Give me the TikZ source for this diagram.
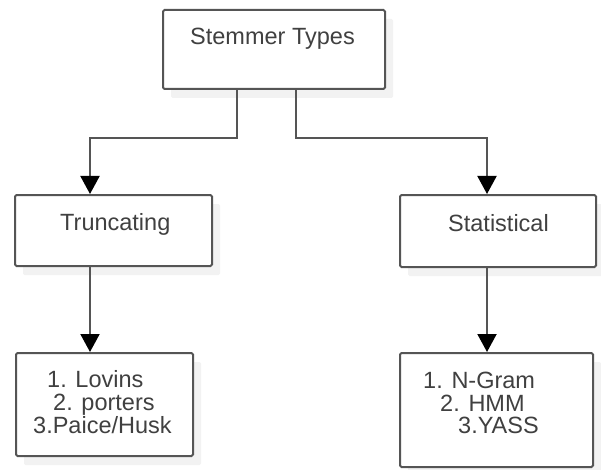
\documentclass[tikz,border=0pt]{standalone}
\usepackage{fontspec}
\setmainfont{Liberation Sans}
\usetikzlibrary{arrows.meta,shadows}
\definecolor{edge}{HTML}{555555}
\definecolor{ink}{HTML}{404040}
\tikzset{
  box/.style={draw=edge, line width=2pt, rounded corners=1.5pt, fill=white,
    inner sep=0pt, drop shadow={shadow xshift=8pt, shadow yshift=-9pt, fill=black!5, opacity=1}},
  txt/.style={anchor=base west, inner sep=0pt, text=ink,
    font=\fontsize{23.5}{24}\selectfont},
  arr/.style={draw=edge, line width=2pt, -{Triangle[width=19pt,length=18pt,color=black]}},
  link/.style={draw=edge, line width=2pt}
}
\begin{document}
\begin{tikzpicture}[x=1pt,y=-1pt]
  \useasboundingbox (0,0) rectangle (601,470);
  % boxes
  \node[box, minimum width=222pt, minimum height=79pt]  (top)   at (274,49.5) {};
  \node[box, minimum width=197pt, minimum height=71pt]  (trunc) at (113.5,230.5) {};
  \node[box, minimum width=196pt, minimum height=72pt]  (stat)  at (498,231) {};
  \node[box, minimum width=177pt, minimum height=103pt] (tlist) at (104.5,404.5) {};
  \node[box, minimum width=193pt, minimum height=114pt] (slist) at (496.5,410) {};
  % texts
  \node[txt] (ttop) at (190,45) {Stemmer Types};
  \node[txt] (ttrunc) at (60,230) {Truncating};
  \node[txt] (tstat) at (448,231) {Statistical};
  \node[txt] (tl1) at (47,387) {1. Lovins};
  \node[txt] (tl2) at (53,410) {2. porters};
  \node[txt] (tl3) at (33,433) {3.Paice/Husk};
  \node[txt] (sl1) at (423,388) {1. N-Gram};
  \node[txt] (sl2) at (440,411) {2. HMM};
  \node[txt] (sl3) at (458,433) {3.YASS};
  % connector guides
  \coordinate (jl) at (237,138);
  \coordinate (jr) at (296,138);
  \coordinate (xl) at (90,0);
  \coordinate (xr) at (487,0);
  % connectors
  \draw[arr] (top.south -| jl) -- (jl) -| (trunc.north -| xl);
  \draw[arr] (top.south -| jr) -- (jr) -| (stat.north -| xr);
  \draw[arr] (trunc.south -| xl) -- (tlist.north -| xl);
  \draw[arr] (stat.south -| xr) -- (slist.north -| xr);
\end{tikzpicture}
\end{document}
